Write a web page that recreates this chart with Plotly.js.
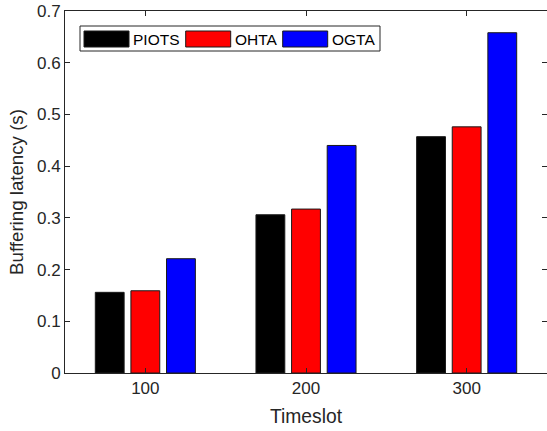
<!DOCTYPE html>
<html>
<head>
<meta charset="utf-8">
<script src="https://cdn.plot.ly/plotly-3.0.1.min.js"></script>
<style>html,body{margin:0;padding:0;background:#fff;}#chart{width:547px;height:431px;}</style>
</head>
<body>
<div id="chart"></div>
<script>
// ---- data ----
const timeslots = [100, 200, 300];
const seriesNames = ["PIOTS", "OHTA", "OGTA"];
const piots = [0.156, 0.306, 0.457];
const ohta = [0.159, 0.317, 0.476];
const ogta = [0.221, 0.440, 0.658];
const seriesColors = ["#000000", "#FF0000", "#0000FF"];
const yTicks = [0, 0.1, 0.2, 0.3, 0.4, 0.5, 0.6, 0.7];
const xTitle = "Timeslot";
const yTitle = "Buffering latency (s)";

const seriesValues = [piots, ohta, ogta];
const W = 547, H = 431;
const M = {l: 65, r: 0, t: 11, b: 58};
const PW = W - M.l - M.r, PH = H - M.t - M.b;
const px = x => (x - M.l) / PW;
const py = y => (H - M.b - y) / PH;
const axisColor = "#262626";
const font = "Liberation Sans, Arial, Helvetica, sans-serif";

const traces = seriesNames.map((n, i) => ({
  type: "bar",
  name: n,
  x: timeslots,
  y: seriesValues[i],
  marker: {color: seriesColors[i], line: {color: "#1a1a1a", width: 1}},
  showlegend: false,
  hoverinfo: "x+y+name"
}));

// custom MATLAB-like legend
const shapes = [{
  type: "rect", xref: "paper", yref: "paper",
  x0: px(80), x1: px(380), y0: py(26), y1: py(51),
  fillcolor: "#ffffff", line: {color: axisColor, width: 1}, layer: "above"
}];
const annotations = [];
const swatchX = [84, 185.7, 282.7];
seriesNames.forEach((n, i) => {
  shapes.push({
    type: "rect", xref: "paper", yref: "paper",
    x0: px(swatchX[i]), x1: px(swatchX[i] + 45), y0: py(31), y1: py(47),
    fillcolor: seriesColors[i], line: {color: "#1a1a1a", width: 1}, layer: "above"
  });
  annotations.push({
    xref: "paper", yref: "paper", x: px(swatchX[i] + 47), y: py(39),
    xanchor: "left", yanchor: "middle", showarrow: false, text: n,
    font: {family: font, size: 15.5, color: "#000000"}
  });
});

const layout = {
  width: W, height: H,
  margin: M,
  paper_bgcolor: "#ffffff", plot_bgcolor: "#ffffff",
  barmode: "group", bargap: 0.335, bargroupgap: 0.19,
  font: {family: font, color: axisColor},
  showlegend: false,
  xaxis: {
    range: [50, 350], tickvals: timeslots, ticktext: timeslots.map(String),
    ticks: "inside", ticklen: 5, tickcolor: axisColor, tickwidth: 1,
    showline: true, linecolor: axisColor, linewidth: 1, mirror: "ticks",
    showgrid: false, zeroline: false,
    tickfont: {family: font, size: 17, color: axisColor},
    title: {text: xTitle, font: {family: font, size: 19.3, color: axisColor}, standoff: 12},
    automargin: false, fixedrange: true
  },
  yaxis: {
    range: [0, 0.7], tickvals: yTicks, ticktext: yTicks.map(String),
    ticks: "inside", ticklen: 5, tickcolor: axisColor, tickwidth: 1,
    showline: true, linecolor: axisColor, linewidth: 1, mirror: "ticks",
    showgrid: false, zeroline: false,
    tickfont: {family: font, size: 17, color: axisColor},
    title: {text: yTitle, font: {family: font, size: 18.7, color: axisColor}, standoff: 8},
    automargin: false, fixedrange: true
  },
  shapes: shapes,
  annotations: annotations
};

Plotly.newPlot("chart", traces, layout, {displayModeBar: false, staticPlot: true});
</script>
</body>
</html>
